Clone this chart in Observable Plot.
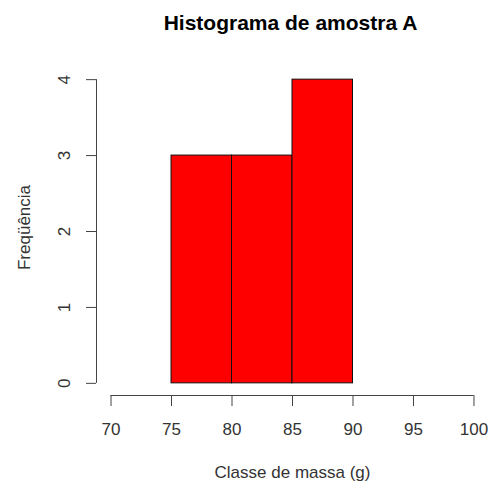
<!DOCTYPE html>
<html>
<head>
<meta charset="utf-8">
<script src="https://cdn.jsdelivr.net/npm/d3@7"></script>
<script src="https://cdn.jsdelivr.net/npm/@observablehq/plot@0.6"></script>
<style>
  html, body { margin: 0; padding: 0; background: #fff; }
  #wrap { width: 490px; height: 484px; overflow: hidden; background: #fff; }
  #title {
    box-sizing: border-box; width: 490px; height: 44px;
    padding-top: 11px; padding-left: 91px; text-align: center;
    font-family: "Liberation Sans", Arial, sans-serif; font-weight: bold;
    font-size: 21px; line-height: 24px; color: #000;
  }
  svg { display: block; }
</style>
</head>
<body>
<div id="wrap">
  <div id="title"></div>
  <div id="chart"></div>
</div>
<script>
const title = "Histograma de amostra A";
const xLabel = "Classe de massa (g)";
const yLabel = "Freqüência";
const binStart = [75, 80, 85];
const binEnd = [80, 85, 90];
const counts = [3, 3, 4];
const xTicks = [70, 75, 80, 85, 90, 95, 100];
const yTicks = [0, 1, 2, 3, 4];
const xDomain = [68.8, 101.2];
const yDomain = [-0.16, 4.16];

const bins = binStart.map((s, i) => ({x1: s, x2: binEnd[i], count: counts[i]}));

document.getElementById("title").textContent = title;

const chart = Plot.plot({
  width: 490,
  height: 440,
  marginTop: 23,
  marginBottom: 89,
  marginLeft: 96,
  marginRight: 2,
  style: {fontFamily: "'Liberation Sans', Arial, sans-serif", fontSize: "17px", background: "white", color: "#333", overflow: "visible"},
  x: {domain: xDomain},
  y: {domain: yDomain},
  marks: [
    Plot.rectY(bins, {x1: "x1", x2: "x2", y1: 0, y2: "count", fill: "#ff0000", stroke: "#111", strokeWidth: 1}),
    Plot.ruleY([yDomain[0]], {x1: xTicks[0], x2: xTicks[xTicks.length - 1], stroke: "#444"}),
    Plot.axisX({ticks: xTicks, tickSize: 11, tickPadding: 16, label: null, tickFormat: d => String(d), color: "#444", fill: "#333"}),
    Plot.ruleX([xDomain[0]], {y1: yTicks[0], y2: yTicks[yTicks.length - 1], stroke: "#444"}),
    Plot.axisY({ticks: yTicks, tickSize: 10, label: null, tickFormat: () => "", color: "#444"}),
    Plot.text(yTicks, {x: xDomain[0], y: d => d, text: d => String(d), rotate: -90, dx: -32, lineAnchor: "middle", textAnchor: "middle", fill: "#333", fontSize: 17}),
    Plot.text([yLabel], {frameAnchor: "left", rotate: -90, dx: -72, dy: -4, textAnchor: "middle", lineAnchor: "middle", fill: "#333", fontSize: 17}),
    Plot.text([xLabel], {frameAnchor: "bottom", dy: 77, textAnchor: "middle", lineAnchor: "middle", fill: "#333", fontSize: 17})
  ]
});
document.getElementById("chart").appendChild(chart);
</script>
</body>
</html>
